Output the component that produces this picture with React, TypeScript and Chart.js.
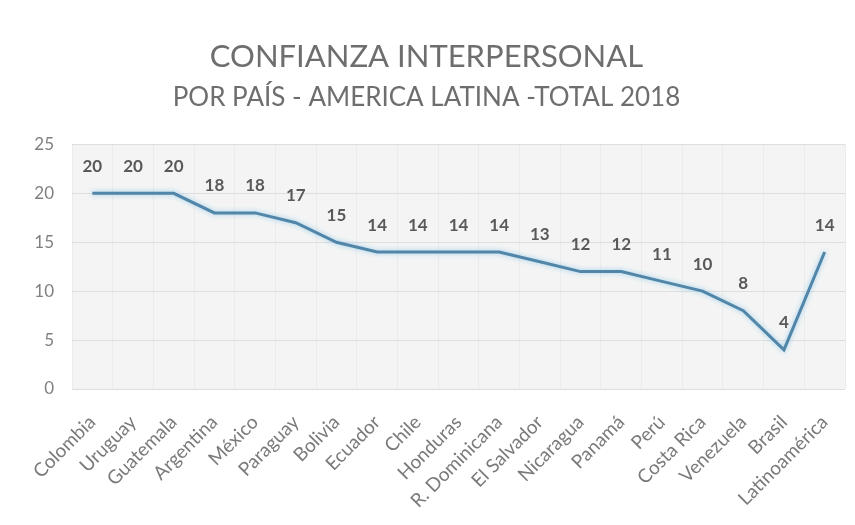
import React, { useEffect, useRef } from "react";
import { Chart, registerables } from "chart.js";

Chart.register(...registerables);

const categories = [
  "Colombia", "Uruguay", "Guatemala", "Argentina", "México", "Paraguay", "Bolivia",
  "Ecuador", "Chile", "Honduras", "R. Dominicana", "El Salvador", "Nicaragua",
  "Panamá", "Perú", "Costa Rica", "Venezuela", "Brasil", "Latinoamérica",
];
const values = [20, 20, 20, 18, 18, 17, 15, 14, 14, 14, 14, 13, 12, 12, 11, 10, 8, 4, 14];
const yTicks = [0, 5, 10, 15, 20, 25];
const titleText = "CONFIANZA INTERPERSONAL";
const subtitleText = "POR PAÍS - AMERICA LATINA -TOTAL 2018";

const FONT = "Lato, 'Open Sans', sans-serif";

const plotBg = {
  id: "plotBg",
  beforeDraw(chart: any) {
    const { ctx, chartArea: a } = chart;
    ctx.save();
    ctx.fillStyle = "#f4f4f4";
    ctx.fillRect(a.left, a.top, a.right - a.left, a.bottom - a.top);
    ctx.restore();
  },
};

const lineGlow = {
  id: "lineGlow",
  beforeDatasetDraw(chart: any) {
    const ctx = chart.ctx;
    ctx.save();
    ctx.shadowColor = "rgba(140,200,235,0.9)";
    ctx.shadowBlur = 5;
    ctx.shadowOffsetX = 0;
    ctx.shadowOffsetY = 0;
  },
  afterDatasetDraw(chart: any) {
    chart.ctx.restore();
  },
};

const valueLabels = {
  id: "valueLabels",
  afterDatasetsDraw(chart: any) {
    const { ctx } = chart;
    const meta = chart.getDatasetMeta(0);
    ctx.save();
    ctx.fillStyle = "#595959";
    ctx.font = `bold 17px ${FONT}`;
    ctx.textAlign = "center";
    ctx.textBaseline = "middle";
    meta.data.forEach((pt: any, i: number) => {
      ctx.fillText(String(values[i]), pt.x, pt.y - 27);
    });
    ctx.restore();
  },
};

export default function App() {
  const ref = useRef<HTMLCanvasElement | null>(null);
  useEffect(() => {
    if (!ref.current) return;
    const chart = new Chart(ref.current, {
      type: "line",
      data: {
        labels: categories,
        datasets: [
          {
            data: values,
            borderColor: "#5286a8",
            borderWidth: 3,
            pointRadius: 0,
            tension: 0,
            fill: false,
          },
        ],
      },
      options: {
        animation: false,
        responsive: true,
        maintainAspectRatio: false,
        layout: { padding: { left: 0, right: 2, top: 12, bottom: 0 } },
        plugins: {
          legend: { display: false },
          tooltip: { enabled: false },
          title: {
            display: true,
            text: titleText,
            color: "#6e6e6e",
            font: { family: FONT, size: 31, weight: "normal" },
            padding: { top: 18, bottom: 7 },
          },
          subtitle: {
            display: true,
            text: subtitleText,
            color: "#6e6e6e",
            font: { family: FONT, size: 26, weight: "normal" },
            padding: { top: 0, bottom: 31 },
          },
        },
        scales: {
          x: {
            offset: true,
            grid: { display: true, color: "#ebebeb", drawTicks: false, offset: true },
            border: { display: false },
            ticks: {
              color: "#7a7a7a",
              font: { family: FONT, size: 19 },
              maxRotation: 45,
              minRotation: 45,
              autoSkip: false,
              padding: 22,
            },
            afterFit(scale: any) {
              scale.height = 128;
              scale.paddingLeft = 0;
              scale.paddingRight = 0;
            },
          },
          y: {
            min: 0,
            max: 25,
            afterBuildTicks(scale: any) {
              scale.ticks = yTicks.map((v) => ({ value: v }));
            },
            grid: { color: "#dedede", drawTicks: false },
            border: { display: false },
            ticks: {
              color: "#808080",
              font: { family: FONT, size: 17 },
              padding: 18,
            },
            afterFit(scale: any) {
              scale.width = 64;
              scale.paddingTop = 0;
              scale.paddingBottom = 0;
            },
          },
        },
      },
      plugins: [plotBg, lineGlow, valueLabels],
    });
    return () => chart.destroy();
  }, []);

  return (
    <div style={{ width: 839, height: 509, position: "relative" }}>
      <canvas ref={ref} />
    </div>
  );
}
